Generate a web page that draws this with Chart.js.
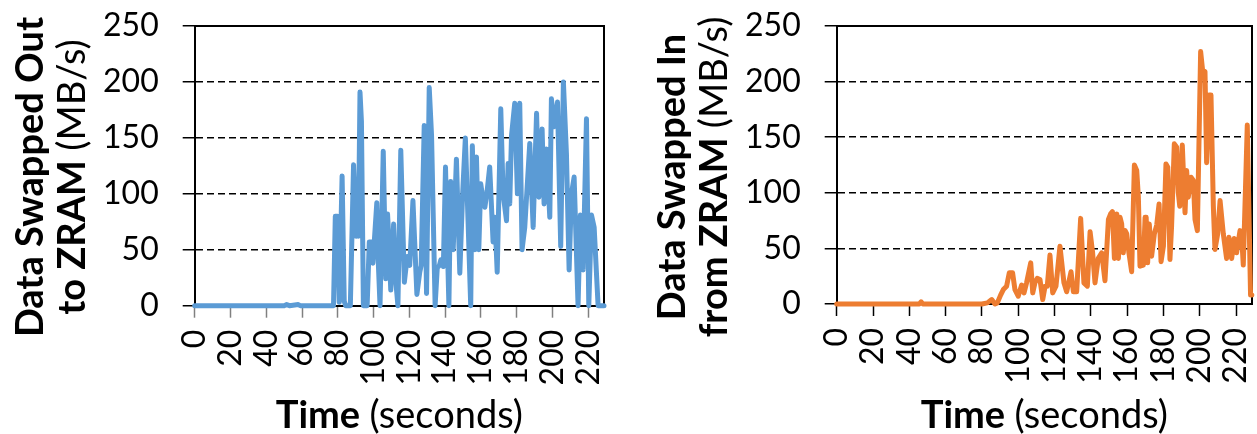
<!DOCTYPE html>
<html>
<head>
<meta charset="utf-8">
<script src="https://cdn.jsdelivr.net/npm/chart.js@4.4.1/dist/chart.umd.min.js"></script>
<style>
  html, body { margin: 0; padding: 0; background: #fff; }
  #wrap { position: relative; width: 1257px; height: 434px; overflow: hidden; }
  .box { position: absolute; top: 0; }
  canvas { display: block; }
</style>
</head>
<body>
<div id="wrap">
  <div class="box" style="left:0px"><canvas id="c1" width="642" height="434"></canvas></div>
  <div class="box" style="left:642px"><canvas id="c2" width="615" height="434"></canvas></div>
</div>
<script>
// ---- data ----
const xTickStep = 20;
const xMax = 228.8;
const yTicks = [0, 50, 100, 150, 200, 250];

const swapOutTimes = [0,50,51.4,53,57.9,59,77.6,78.6,79.8,80.8,82.4,83.6,84.4,87,88.8,90.3,91,91.5,92.4,93.2,94.3,96.4,97.6,98.8,99.6,101.8,102.6,103.6,105.4,106.8,107.8,108.5,109.6,111.2,112.4,113.6,115.2,117.2,118.8,120.2,122,124.2,125.8,126.6,128.3,129.6,131.1,132.4,134.4,135.6,136.8,137.6,139,140.2,142.1,143.1,144.5,146.3,148.2,149.7,151.3,152.8,154.3,155.2,156.6,157.5,158.8,159.9,160.7,162.2,163.5,164.9,166.8,167.8,169.1,171.1,172.4,174.3,175.2,176.1,177.1,178.9,180.4,181.7,183,184.5,187.3,189.2,191.1,192.4,194.2,195.3,196.6,198.5,199.4,200.9,202.8,204.6,206.1,207.8,209.3,210.6,212.1,214.3,215.6,217.1,219,220.3,221.8,223.3,225.5,228.8];
const swapOutValues = [0,0,1,0,1,0,0,80,80,3,116,4,0,0,126,62,110,62,191,165,0,0,57,57,38,92,40,0,138,24,82,60,14,73,22,0,139,21,44,36,94,10,30,36,161,11,195,152,0,34,36,41,35,124,0,111,50,131,29,97,150,76,0,143,50,133,50,109,100,88,103,124,57,79,30,176,100,76,127,91,152,181,100,181,50,70,145,70,172,97,158,91,140,79,185,160,182,53,200,136,32,100,115,0,81,32,167,0,81,70,0,0];

const swapInTimes = [0,45.5,46.5,47.5,80,83,85.4,87.2,88.5,90.3,91.8,93.6,95.1,96.9,98.2,100,101.9,103.2,104.6,106.9,108,109.2,110.5,112,113.5,114.8,116,117.5,119,120.8,123,125.2,126.7,129.1,130.4,132.2,134.4,136.2,138.1,139.6,141,142.3,144.1,146,147.8,149.7,150.9,151.9,153,154.3,155.2,156.1,157,157.9,158.9,159.8,161,162.5,164,165.3,166.2,167.1,168.9,169.9,170.5,171.3,172.2,173.5,175,176.3,177.6,178.7,180,181.4,182.4,183.6,184.5,186,187.3,188.2,189,190.4,191.9,192.8,193.7,195.2,196.5,197.4,198.7,200.5,201.6,202.9,203.8,205.1,206.2,207.5,208.4,209.9,211.2,213,214.8,216.1,217.6,219,220.3,222.2,223,224,226.2,228,228.7];
const swapInValues = [0,0,2,0,0,1,4,0,1,8,13,16,28,28,13,7,17,10,19,37,10,19,23,22,4,16,16,44,10,16,52,19,11,29,11,11,77,19,16,65,46,19,41,46,21,76,81,83,41,81,41,78,72,46,66,63,46,29,125,120,96,34,35,78,78,37,72,43,63,71,90,38,52,126,123,40,70,144,141,100,88,143,82,120,96,114,111,76,66,227,210,209,127,188,188,88,49,63,93,63,41,60,41,59,46,66,64,35,161,8,8];

const leftTitle = [[{t:'Data Swapped Out', b:true}], [{t:'to ZRAM ', b:true}, {t:'(MB/s)', b:false}]];
const rightTitle = [[{t:'Data Swapped In', b:true}], [{t:'from ZRAM ', b:true}, {t:'(MB/s)', b:false}]];
const xTitle = [{t:'Time ', b:true}, {t:'(seconds)', b:false}];

// ---- styling ----
const FONT = 'Lato';
const TICK_SIZE = 32;
const TITLE_SIZE = 38;

function pts(xs, ys) { return xs.map((x, i) => ({x, y: ys[i]})); }

function richWidth(ctx, segs) {
  let w = 0;
  segs.forEach(s => { ctx.font = (s.b ? 'bold ' : '') + TITLE_SIZE + 'px ' + FONT; w += ctx.measureText(s.t).width; });
  return w;
}
function drawRich(ctx, segs, startX) {
  let x = startX;
  segs.forEach(s => {
    ctx.font = (s.b ? 'bold ' : '') + TITLE_SIZE + 'px ' + FONT;
    ctx.fillText(s.t, x, 0);
    x += ctx.measureText(s.t).width;
  });
}

const decor = {
  id: 'decor',
  beforeDatasetsDraw(chart) {
    const {ctx, chartArea: a} = chart;
    ctx.save();
    ctx.strokeStyle = '#000';
    ctx.lineWidth = 2;
    ctx.beginPath();
    ctx.moveTo(a.left, a.top);
    ctx.lineTo(a.right, a.top);
    ctx.lineTo(a.right, a.bottom);
    ctx.stroke();
    ctx.restore();
  },
  afterDraw(chart, args, o) {
    const {ctx, chartArea: a} = chart;
    ctx.save();
    ctx.fillStyle = '#000';
    ctx.textBaseline = 'alphabetic';
    ctx.textAlign = 'left';
    o.yTitle.forEach((line, i) => {
      const w = richWidth(ctx, line);
      ctx.save();
      ctx.translate(o.yBase[i], o.yCenter);
      ctx.rotate(-Math.PI / 2);
      drawRich(ctx, line, -w / 2);
      ctx.restore();
    });
    const w = richWidth(ctx, xTitle);
    ctx.save();
    ctx.translate((a.left + a.right) / 2, o.xBase);
    drawRich(ctx, xTitle, -w / 2);
    ctx.restore();
    ctx.restore();
  }
};

function makeChart(id, times, values, color, cfg) {
  return new Chart(document.getElementById(id), {
    type: 'line',
    data: {
      datasets: [{
        data: pts(times, values),
        borderColor: color,
        backgroundColor: color,
        borderWidth: 5,
        pointRadius: 0,
        tension: 0,
        borderJoinStyle: 'round',
        borderCapStyle: 'round',
        clip: 6
      }]
    },
    options: {
      responsive: false,
      animation: false,
      devicePixelRatio: 1,
      parsing: false,
      layout: { padding: { top: 26, right: cfg.padRight, left: 0, bottom: 0 } },
      plugins: {
        legend: { display: false },
        tooltip: { enabled: false },
        decor: { yTitle: cfg.yTitle, yBase: [43, 85], yCenter: 177, xBase: 428 }
      },
      scales: {
        x: {
          type: 'linear',
          min: 0,
          max: xMax,
          afterFit(s) { s.height = 434 - cfg.bottom; s.paddingLeft = 0; s.paddingRight = 0; },
          ticks: {
            stepSize: xTickStep,
            includeBounds: false,
            autoSkip: false,
            minRotation: 90,
            maxRotation: 90,
            padding: 12,
            color: '#000',
            font: { family: FONT, size: TICK_SIZE }
          },
          grid: {
            drawOnChartArea: false,
            drawTicks: true,
            tickLength: 12,
            tickWidth: 1.5,
            tickColor: cfg.xTickColor
          },
          border: { display: true, color: '#000', width: 2 }
        },
        y: {
          min: 0,
          max: 250,
          afterFit(s) { s.width = 194.7; s.paddingTop = 0; s.paddingBottom = 0; },
          afterBuildTicks(s) { s.ticks = yTicks.map(v => ({value: v})); },
          ticks: {
            padding: 24,
            color: '#000',
            font: { family: FONT, size: TICK_SIZE }
          },
          grid: {
            color: c => (c.tick && (c.tick.value === 0 || c.tick.value === 250)) ? 'rgba(0,0,0,0)' : '#000',
            lineWidth: 1.5,
            tickColor: '#000',
            tickWidth: 1.5,
            tickLength: 12,
            tickBorderDash: []
          },
          border: { display: true, color: '#000', width: 2, dash: [7, 4] }
        }
      }
    },
    plugins: [decor]
  });
}

makeChart('c1', swapOutTimes, swapOutValues, '#5B9BD5', { padRight: 38, bottom: 305.7, yTitle: leftTitle, xTickColor: '#808080' });
makeChart('c2', swapInTimes, swapInValues, '#ED7D31', { padRight: 5, bottom: 304, yTitle: rightTitle, xTickColor: '#000' });
</script>
</body>
</html>
